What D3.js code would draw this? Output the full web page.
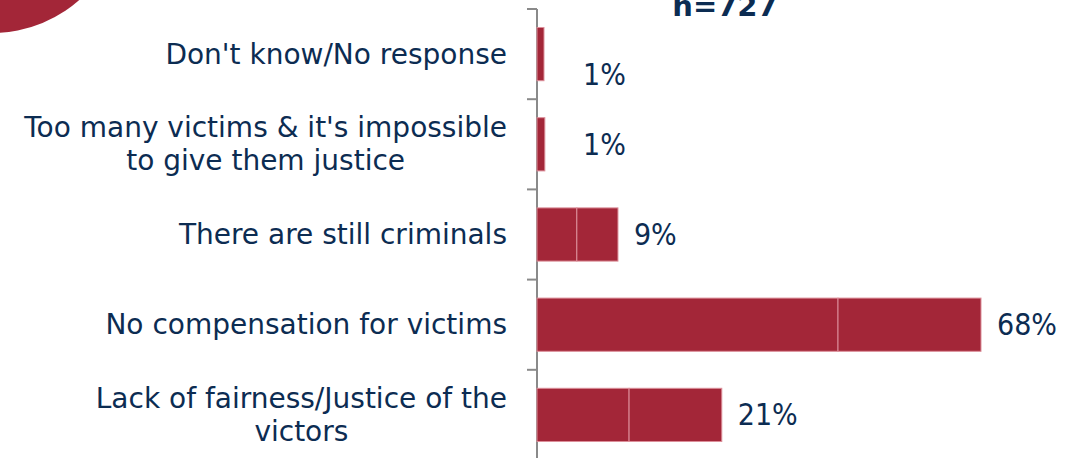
<!DOCTYPE html>
<html><head><meta charset="utf-8">
<script src="https://cdn.jsdelivr.net/npm/d3@7"></script>
<style>html,body{margin:0;padding:0;background:#fff;overflow:hidden}</style>
</head><body>
<svg id="c" width="1072" height="458"></svg>
<script>
const categories = [
  ["Don't know/No response"],
  ["Too many victims & it's impossible", "to give them justice"],
  ["There are still criminals"],
  ["No compensation for victims"],
  ["Lack of fairness/Justice of the", "victors"]
];
const valueLabels = ["1%", "1%", "9%", "68%", "21%"];
const segmentA = [1.07, 1.2, 6.1, 46.1, 14.1];
const segmentB = [0, 0, 6.3, 21.9, 14.2];
const sampleNote = "n=727";

const svg = d3.select("#c");
const navy = "#0c2c52", red = "#a32638";

// decorative circle top-left
svg.append("circle").attr("cx", -8).attr("cy", -99).attr("r", 132).attr("fill", red);

const x0 = 537;
const x = d3.scaleLinear().domain([0, 68]).range([x0, 981]);
const y = d3.scaleBand().domain(d3.range(categories.length)).range([9, 460]).paddingInner(0.41).paddingOuter(0.205);

// axis
svg.append("line").attr("x1", x0).attr("x2", x0).attr("y1", 9).attr("y2", 460)
  .attr("stroke", "#8a8a8a").attr("stroke-width", 2);
const step = y.step();
const bounds = d3.range(categories.length + 1).map(i => 9 + i * step);
svg.selectAll(".tk").data(bounds).join("line")
  .attr("x1", x0 - 10).attr("x2", x0).attr("y1", d => d).attr("y2", d => d)
  .attr("stroke", "#8a8a8a").attr("stroke-width", 2);

// bars
const g = svg.append("g");
categories.forEach((c, i) => {
  const yy = y(i), h = y.bandwidth();
  g.append("rect").attr("x", x(0)).attr("y", yy).attr("width", x(segmentA[i]) - x(0)).attr("height", h)
    .attr("fill", red).attr("stroke", "#dc8f9a").attr("stroke-width", 1);
  if (segmentB[i] > 0) {
    g.append("rect").attr("x", x(segmentA[i])).attr("y", yy)
      .attr("width", x(segmentA[i] + segmentB[i]) - x(segmentA[i])).attr("height", h)
      .attr("fill", red).attr("stroke", "#dc8f9a").attr("stroke-width", 1);
  }
});

// category labels: block right-aligned at 507, lines centered
const font = "'DejaVu Sans', sans-serif";
const fontC = "'DejaVu Sans Condensed', 'DejaVu Sans', sans-serif";
categories.forEach((lines, i) => {
  const cy = y(i) + y.bandwidth() / 2;
  const lh = 33;
  const t = svg.append("g");
  const texts = lines.map((ln, k) => t.append("text").text(ln)
    .attr("font-family", font).attr("font-size", 28).attr("fill", navy)
    .attr("text-anchor", "middle").attr("dominant-baseline", "central")
    .attr("y", cy + (k - (lines.length - 1) / 2) * lh));
  const w = d3.max(texts, tx => tx.node().getComputedTextLength());
  texts.forEach(tx => tx.attr("x", 507 - w / 2));
});

// value labels
valueLabels.forEach((v, i) => {
  const end = x(segmentA[i] + segmentB[i]);
  let cy = y(i) + y.bandwidth() / 2;
  if (i === 0) cy += 20;
  svg.append("text").text(v)
    .attr("x", Math.max(end + 16, x0 + 46)).attr("y", cy)
    .attr("dominant-baseline", "central")
    .attr("font-family", fontC).attr("font-size", 30).attr("fill", navy);
});

// sample note
svg.append("text").text(sampleNote).attr("x", 725).attr("y", 16).attr("text-anchor", "middle")
  .attr("font-family", font).attr("font-size", 29).attr("font-weight", "bold").attr("fill", navy);
</script>
</body></html>
